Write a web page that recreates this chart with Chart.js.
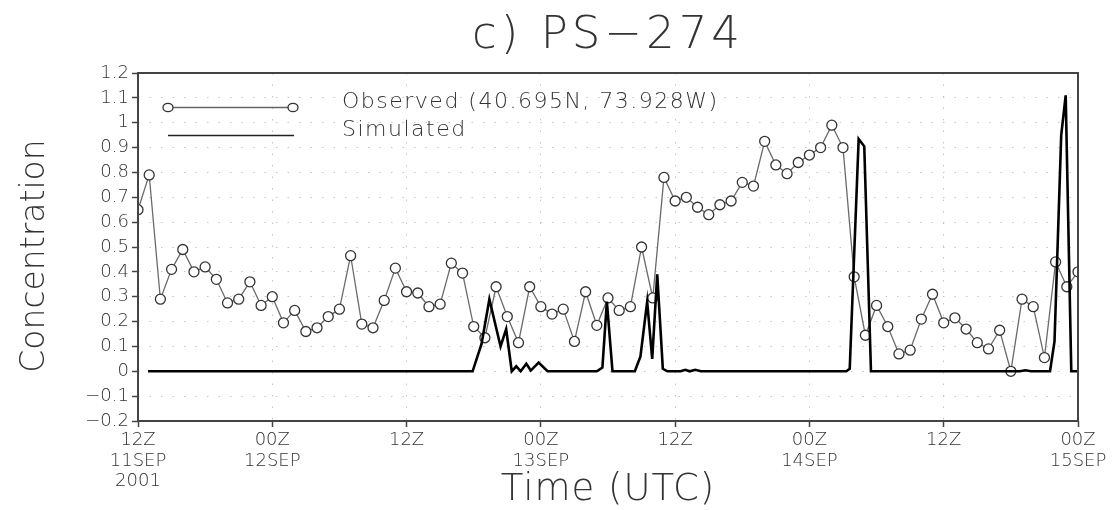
<!DOCTYPE html>
<html>
<head>
<meta charset="utf-8">
<script src="https://cdn.jsdelivr.net/npm/chart.js@4"></script>
<style>
  html, body { margin: 0; padding: 0; background: #fff; }
  canvas { display: block; }
</style>
</head>
<body>
<canvas id="myChart" width="1118" height="510"></canvas>
<script>
// hourly observations, 12Z 11SEP (hour 0) to 00Z 15SEP (hour 84)
const observed = [
  0.65, 0.79, 0.29, 0.41, 0.49, 0.40, 0.42, 0.37, 0.275, 0.29,
  0.36, 0.265, 0.30, 0.195, 0.245, 0.16, 0.175, 0.22, 0.25, 0.465,
  0.19, 0.175, 0.285, 0.415, 0.32, 0.315, 0.26, 0.27, 0.435, 0.395,
  0.18, 0.135, 0.34, 0.22, 0.115, 0.34, 0.26, 0.23, 0.25, 0.12,
  0.32, 0.185, 0.295, 0.245, 0.26, 0.50, 0.295, 0.78, 0.685, 0.70,
  0.66, 0.63, 0.67, 0.685, 0.76, 0.745, 0.925, 0.83, 0.795, 0.84,
  0.87, 0.90, 0.99, 0.90, 0.38, 0.145, 0.265, 0.18, 0.07, 0.085,
  0.21, 0.31, 0.195, 0.215, 0.17, 0.115, 0.09, 0.165, 0.0, 0.29,
  0.26, 0.055, 0.44, 0.34, 0.40
];

// simulated series (hours since 12Z 11SEP, value)
const simHours = [
  0.9, 29.9, 30.7, 31.4, 32.4, 32.9, 33.4, 33.8, 34.2, 34.7, 35.1, 35.8, 36.6,
  41.0, 41.5, 41.9, 42.4, 44.4, 44.9, 45.5, 45.95, 46.4, 46.9, 47.3,
  48.5, 48.9, 49.3, 49.8, 50.3, 63.3, 63.6, 64.4, 64.9, 65.5,
  78.8, 79.3, 79.8, 81.5, 81.9, 82.5, 82.9, 83.4, 84
];
const simValues = [
  0, 0, 0.11, 0.29, 0.10, 0.17, 0, 0.02, 0, 0.03, 0.003, 0.035, 0,
  0, 0.015, 0.28, 0, 0, 0.06, 0.28, 0.05, 0.39, 0.01, 0,
  0, 0.006, 0, 0.006, 0, 0, 0.01, 0.935, 0.905, 0,
  0, 0.004, 0, 0, 0.12, 0.95, 1.11, 0, 0
];

const xTickLabels = [
  ['12Z', '11SEP', '2001'], ['00Z', '12SEP'], ['12Z'], ['00Z', '13SEP'],
  ['12Z'], ['00Z', '14SEP'], ['12Z'], ['00Z', '15SEP']
];

const titleText = 'c) PS\u2212274';
const xTitle = 'Time (UTC)';
const yTitle = 'Concentration';
const legendObserved = 'Observed (40.695N, 73.928W)';
const legendSimulated = 'Simulated';

const FONT = '"DejaVu Sans", "Liberation Sans", sans-serif';
const TEXT = '#333';

// title, axis titles, legend and frame
const decorations = {
  id: 'decorations',
  afterDraw(chart) {
    const ctx = chart.ctx;
    const a = chart.chartArea;
    ctx.save();

    // frame
    ctx.strokeStyle = '#444';
    ctx.lineWidth = 2;
    ctx.strokeRect(a.left, a.top, a.right - a.left, a.bottom - a.top);

    ctx.fillStyle = TEXT;
    ctx.textBaseline = 'alphabetic';

    // title
    ctx.font = '200 45px ' + FONT;
    ctx.letterSpacing = '4px';
    ctx.textAlign = 'center';
    ctx.fillText(titleText, (a.left + a.right) / 2, 48);

    // x title
    ctx.font = '200 37px ' + FONT;
    ctx.letterSpacing = '1px';
    ctx.fillText(xTitle, (a.left + a.right) / 2, 500);

    // y title
    ctx.save();
    ctx.font = '200 33px ' + FONT;
    ctx.letterSpacing = '0px';
    ctx.translate(44, 256);
    ctx.rotate(-Math.PI / 2);
    ctx.fillText(yTitle, 0, 0);
    ctx.restore();

    // legend
    ctx.letterSpacing = '1.5px';
    ctx.font = '200 22px ' + FONT;
    ctx.textAlign = 'left';
    ctx.fillText(legendObserved, 342, 108);
    ctx.fillText(legendSimulated, 342, 136);

    ctx.strokeStyle = '#666';
    ctx.lineWidth = 1.5;
    ctx.beginPath();
    ctx.moveTo(168, 107.5);
    ctx.lineTo(293, 107.5);
    ctx.stroke();
    [168, 293].forEach(x => {
      ctx.beginPath();
      ctx.ellipse(x, 107.5, 5, 4.2, 0, 0, Math.PI * 2);
      ctx.fillStyle = '#fff';
      ctx.fill();
      ctx.strokeStyle = '#333';
      ctx.lineWidth = 1.3;
      ctx.stroke();
    });

    ctx.strokeStyle = '#222';
    ctx.lineWidth = 1.3;
    ctx.beginPath();
    ctx.moveTo(168, 135.5);
    ctx.lineTo(294, 135.5);
    ctx.stroke();

    ctx.restore();
  }
};

const gridStyle = {
  color: '#c4c4c4',
  lineWidth: 1,
  tickColor: '#444',
  tickLength: 6,
  tickWidth: 1.5
};

new Chart(document.getElementById('myChart'), {
  type: 'line',
  data: {
    datasets: [
      {
        label: legendSimulated,
        data: simHours.map((h, i) => ({ x: h, y: simValues[i] })),
        borderColor: '#000',
        borderWidth: 2.6,
        pointRadius: 0,
        tension: 0,
        order: 0
      },
      {
        label: legendObserved,
        data: observed.map((v, i) => ({ x: i, y: v })),
        borderColor: '#6a6a6a',
        borderWidth: 1.3,
        pointRadius: 5,
        pointBackgroundColor: '#fff',
        pointBorderColor: '#333',
        pointBorderWidth: 1.3,
        tension: 0,
        order: 1
      }
    ]
  },
  options: {
    responsive: false,
    animation: false,
    devicePixelRatio: 1,
    layout: { padding: { top: 73, right: 40, left: 0, bottom: 0 } },
    plugins: {
      legend: { display: false },
      tooltip: { enabled: false }
    },
    scales: {
      x: {
        type: 'linear',
        min: 0,
        max: 84,
        afterFit: s => { s.height = 89; },
        ticks: {
          stepSize: 12,
          autoSkip: false,
          maxRotation: 0,
          padding: 3,
          color: TEXT,
          font: { family: FONT, size: 18, weight: '200', lineHeight: 1.15 },
          callback: (v, i) => xTickLabels[i]
        },
        grid: gridStyle,
        border: { display: false, dash: [1.5, 10] }
      },
      y: {
        min: -0.2,
        max: 1.2,
        afterFit: s => { s.width = 138; },
        ticks: {
          stepSize: 0.1,
          padding: 3,
          color: TEXT,
          font: { family: FONT, size: 18, weight: '200' },
          callback: v => String(Number(v.toFixed(1))).replace('-', '\u2212')
        },
        grid: gridStyle,
        border: { display: false, dash: [1.5, 10] }
      }
    }
  },
  plugins: [decorations]
});
</script>
</body>
</html>
